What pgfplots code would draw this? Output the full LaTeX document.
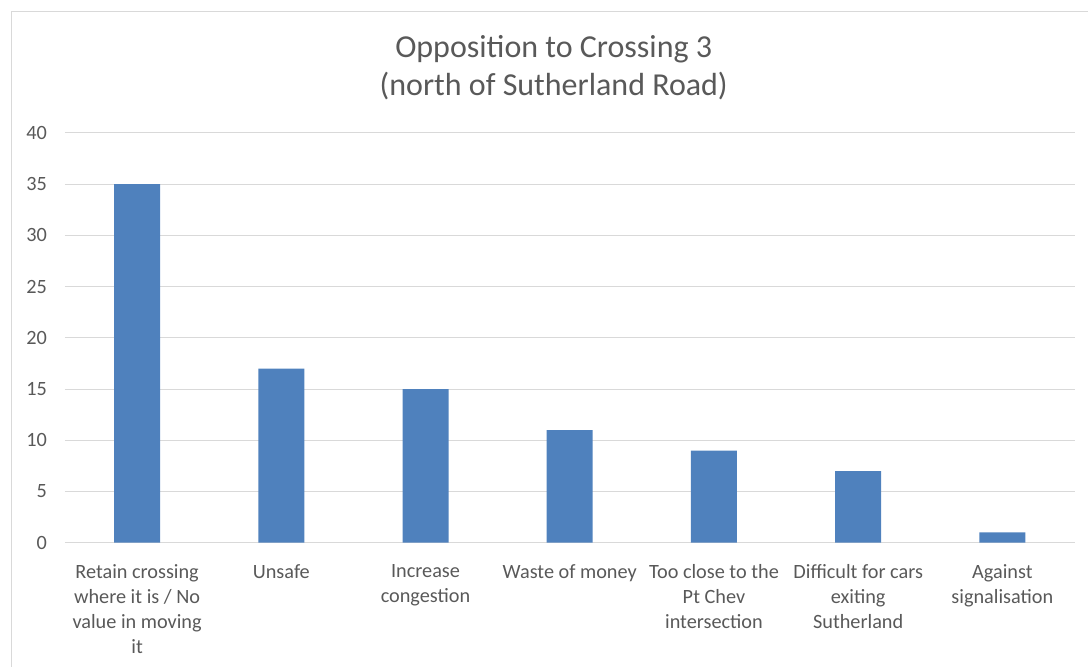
\documentclass[border=0pt]{standalone}
\usepackage{pgfplots}
\pgfplotsset{compat=1.18}
\usepackage{fontspec}
\setmainfont{Carlito}
\definecolor{barblue}{HTML}{4F81BD}
\definecolor{txtgray}{HTML}{595959}
\definecolor{gridgray}{HTML}{D9D9D9}
\definecolor{framegray}{HTML}{D9D9D9}

\begin{document}
\begin{tikzpicture}
  % canvas: 1088 x 667 px at 0.75pt per px
  \path (0,0) rectangle (816pt,500.25pt);
  \draw[framegray, line width=0.75pt] (9pt,0) -- (9pt,491.25pt) -- (816pt,491.25pt);

  \node[align=center, text=txtgray, font=\fontsize{24}{28.5}\selectfont]
    at (415.5pt,449.5pt) {Opposition to Crossing 3\\(north of Sutherland Road)};

  \begin{axis}[
    at={(48.75pt,93pt)}, anchor=south west,
    scale only axis,
    width=757.5pt, height=307.5pt,
    xmin=-0.5, xmax=6.5,
    ymin=0, ymax=40,
    ytick={0,5,...,40},
    xtick=data,
    xticklabels={
      {Retain crossing\\where it is / No\\value in moving\\it},
      {Unsafe},
      {Increase\\congestion},
      {Waste of money},
      {Too close to the\\Pt Chev\\intersection},
      {Difficult for cars\\exiting\\Sutherland},
      {Against\\signalisation}},
    axis line style={draw=none},
    major tick length=0pt,
    ymajorgrids,
    grid style={gridgray, line width=0.75pt},
    xticklabel style={align=center, text=txtgray,
      font=\fontsize{15.2}{18.75}\selectfont, yshift=-13pt},
    yticklabel style={text=txtgray, font=\fontsize{15.2}{16}\selectfont, xshift=-10pt},
    /pgf/number format/assume math mode=true,
    ybar, bar width=34.5pt,
  ]
    \addplot[fill=barblue, draw=none] coordinates {
      (0,35) (1,17) (2,15) (3,11) (4,9) (5,7) (6,1)
    };
  \end{axis}
\end{tikzpicture}
\end{document}
